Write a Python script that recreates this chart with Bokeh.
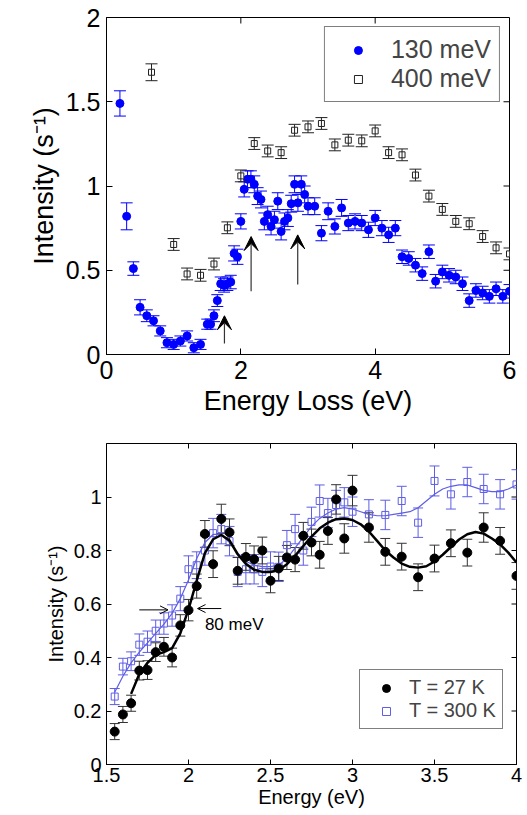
import math
from bokeh.plotting import figure
from bokeh.models import (ColumnDataSource, Whisker, TeeHead, Arrow, VeeHead, OpenHead,
                          Legend, LegendItem, FixedTicker,
                          CustomJSTickFormatter, Range1d, Label)
from bokeh.layouts import column
from bokeh.embed import file_html
from bokeh.resources import INLINE
from bokeh.core.properties import value

FONT = "Liberation Sans"

# ---------------- top panel data ----------------
e130 = [0.20, 0.30, 0.40, 0.50, 0.60, 0.70, 0.80, 0.90, 1.00, 1.10, 1.20, 1.30, 1.40,
        1.50, 1.55, 1.60, 1.65, 1.70, 1.75, 1.80, 1.85, 1.90, 1.95, 2.00, 2.05, 2.10,
        2.15, 2.20, 2.25, 2.30, 2.35, 2.40, 2.45, 2.50, 2.55, 2.60, 2.65, 2.70, 2.75,
        2.80, 2.85, 2.90, 2.95, 3.00, 3.10, 3.20, 3.30, 3.40, 3.50, 3.60, 3.70, 3.80,
        3.90, 4.00, 4.10, 4.20, 4.30, 4.40, 4.50, 4.60, 4.70, 4.80, 4.90, 5.00, 5.10,
        5.20, 5.30, 5.40, 5.50, 5.60, 5.70, 5.80, 5.90, 6.00]
i130 = [1.49, 0.82, 0.51, 0.28, 0.23, 0.20, 0.14, 0.07, 0.06, 0.08, 0.11, 0.04, 0.06,
        0.18, 0.18, 0.23, 0.32, 0.42, 0.41, 0.42, 0.43, 0.60, 0.58, 0.79, 0.98, 1.04,
        1.04, 1.01, 0.94, 0.92, 0.79, 0.83, 0.76, 0.80, 0.91, 0.73, 0.79, 0.81, 0.895,
        1.01, 0.90, 1.01, 0.95, 0.88, 0.88, 0.72, 0.85, 0.76, 0.87, 0.78, 0.79, 0.78,
        0.74, 0.81, 0.75, 0.71, 0.75, 0.58, 0.57, 0.53, 0.48, 0.61, 0.435, 0.49, 0.47,
        0.46, 0.42, 0.32, 0.38, 0.365, 0.345, 0.39, 0.345, 0.375]
err130 = [0.075, 0.08, 0.04, 0.045, 0.035, 0.03, 0.03, 0.03, 0.03, 0.03, 0.03, 0.03, 0.03,
          0.03, 0.03, 0.035, 0.035, 0.04, 0.04, 0.04, 0.04, 0.045, 0.045, 0.045, 0.045, 0.05,
          0.05, 0.05, 0.05, 0.05, 0.05, 0.05, 0.05, 0.05, 0.05, 0.05, 0.05, 0.05, 0.05,
          0.05, 0.05, 0.05, 0.05, 0.05, 0.05, 0.045, 0.05, 0.045, 0.05, 0.045, 0.045, 0.045,
          0.045, 0.045, 0.045, 0.045, 0.045, 0.04, 0.04, 0.04, 0.04, 0.04, 0.04, 0.04, 0.04,
          0.04, 0.04, 0.04, 0.04, 0.04, 0.04, 0.04, 0.04, 0.04]

e400 = [0.67, 1.0, 1.2, 1.4, 1.6, 1.8, 2.0, 2.2, 2.4, 2.6, 2.8, 3.0, 3.2, 3.4, 3.6,
        3.8, 4.0, 4.2, 4.4, 4.6, 4.8, 5.0, 5.2, 5.4, 5.6, 5.8, 6.0]
i400 = [1.675, 0.653, 0.478, 0.47, 0.537, 0.752, 1.06, 1.252, 1.208, 1.198, 1.331,
        1.351, 1.371, 1.244, 1.272, 1.268, 1.327, 1.198, 1.185, 1.065, 0.94, 0.861,
        0.79, 0.776, 0.70, 0.633, 0.597]
err400 = [0.05] + [0.035] * 26

top_xticks = [0, 2, 4, 6]
top_yticks = [0, 0.5, 1, 1.5, 2]

top_arrow_x = [1.756, 2.153, 2.847]
top_arrow_y0 = [0.065, 0.375, 0.415]
top_arrow_y1 = [0.23, 0.70, 0.71]

# ---------------- bottom panel data ----------------
energy = [1.55, 1.60, 1.65, 1.70, 1.75, 1.80, 1.85, 1.90, 1.95, 2.00, 2.05, 2.10, 2.15,
          2.20, 2.25, 2.30, 2.35, 2.40, 2.45, 2.50, 2.55, 2.60, 2.65, 2.70, 2.75, 2.80,
          2.85, 2.90, 2.95, 3.00, 3.10, 3.20, 3.30, 3.40, 3.50, 3.60, 3.70, 3.80, 3.90, 4.00]
i27 = [0.123, 0.187, 0.229, 0.351, 0.353, 0.42, 0.44, 0.40, 0.52, 0.577, 0.667, 0.862,
       0.749, 0.918, 0.868, 0.724, 0.776, 0.767, 0.80, 0.687, 0.733, 0.774, 0.766, 0.855,
       0.83, 0.784, 0.873, 0.991, 0.845, 1.024, 0.886, 0.795, 0.777, 0.70, 0.77, 0.827,
       0.792, 0.886, 0.836, 0.705]
err27 = [0.03, 0.03, 0.03, 0.035, 0.035, 0.035, 0.035, 0.035, 0.04, 0.04, 0.045, 0.05,
         0.05, 0.055, 0.05, 0.05, 0.05, 0.05, 0.05, 0.045, 0.045, 0.045, 0.045, 0.05,
         0.05, 0.05, 0.05, 0.055, 0.055, 0.057, 0.055, 0.05, 0.05, 0.05, 0.05, 0.05,
         0.05, 0.055, 0.05, 0.05]
i300 = [0.254, 0.366, 0.386, 0.448, 0.459, 0.50, 0.527, 0.557, 0.62, 0.73, 0.745, 0.80,
        0.865, 0.88, 0.835, 0.72, 0.73, 0.73, 0.72, 0.74, 0.739, 0.82, 0.88, 0.80, 0.907,
        0.985, 0.94, 0.97, 0.98, 0.945, 0.935, 0.933, 0.985, 0.904, 1.06, 1.01, 1.056,
        1.03, 1.01, 1.047]
err300 = [0.03, 0.031, 0.035, 0.04, 0.04, 0.04, 0.04, 0.04, 0.045, 0.05, 0.05, 0.055,
          0.055, 0.055, 0.055, 0.055, 0.055, 0.055, 0.055, 0.055, 0.055, 0.055, 0.055,
          0.055, 0.055, 0.06, 0.055, 0.055, 0.055, 0.055, 0.055, 0.055, 0.055, 0.055,
          0.056, 0.055, 0.055, 0.055, 0.055, 0.055]

fit27_e = [1.65, 1.70, 1.75, 1.80, 1.85, 1.90, 1.95, 2.00, 2.05, 2.10, 2.15, 2.20, 2.25,
           2.30, 2.35, 2.40, 2.45, 2.50, 2.55, 2.60, 2.65, 2.70, 2.75, 2.80, 2.85, 2.90,
           2.95, 3.00, 3.05, 3.10, 3.15, 3.20, 3.25, 3.30, 3.35, 3.40, 3.45, 3.50, 3.55,
           3.60, 3.65, 3.70, 3.75, 3.80, 3.85, 3.90, 3.95, 4.00]
fit27 = [0.264, 0.338, 0.38, 0.41, 0.42, 0.435, 0.49, 0.58, 0.687, 0.79, 0.842, 0.858,
         0.838, 0.786, 0.75, 0.728, 0.72, 0.72, 0.726, 0.749, 0.78, 0.817, 0.852, 0.883,
         0.904, 0.917, 0.92, 0.914, 0.898, 0.871, 0.836, 0.80, 0.774, 0.751, 0.739, 0.736,
         0.741, 0.759, 0.784, 0.813, 0.841, 0.861, 0.869, 0.863, 0.845, 0.823, 0.792, 0.755]
fit300_e = [1.55, 1.60, 1.65, 1.70, 1.75, 1.80, 1.85, 1.90, 1.95, 2.00, 2.05, 2.10, 2.15,
            2.20, 2.25, 2.30, 2.35, 2.40, 2.45, 2.50, 2.55, 2.60, 2.65, 2.70, 2.75, 2.80,
            2.85, 2.90, 2.95, 3.00, 3.05, 3.10, 3.15, 3.20, 3.25, 3.30, 3.35, 3.40, 3.45,
            3.50, 3.55, 3.60, 3.65, 3.70, 3.75, 3.80, 3.85, 3.90, 3.95, 4.00]
fit300 = [0.27, 0.33, 0.38, 0.42, 0.455, 0.49, 0.525, 0.565, 0.62, 0.69, 0.77, 0.83, 0.86,
          0.86, 0.83, 0.79, 0.76, 0.745, 0.74, 0.74, 0.745, 0.77, 0.81, 0.85, 0.89, 0.92,
          0.94, 0.955, 0.96, 0.955, 0.945, 0.935, 0.93, 0.93, 0.935, 0.94, 0.945, 0.96,
          0.985, 1.01, 1.03, 1.04, 1.045, 1.045, 1.035, 1.025, 1.02, 1.02, 1.03, 1.045]

bot_xticks = [1.5, 2, 2.5, 3, 3.5, 4]
bot_yticks = [0, 0.2, 0.4, 0.6, 0.8, 1.0]

arrow80_x0 = [1.70, 2.20]
arrow80_x1 = [1.875, 2.055]
arrow80_y = [0.578, 0.583]

BLUE = "#0000ff"
LBLUE = "#5e5ee6"

fmt = CustomJSTickFormatter(code="return String(Math.round(tick*100)/100)")


def style(p, xticks, yticks, tick_fs, label_fs, tick_len, xlabel, ylabel):
    p.grid.visible = False
    p.outline_line_color = "black"
    p.outline_line_width = 1
    xa = p.below[0]
    ya = p.left[0]
    for ax in (xa, ya):
        ax.major_tick_in = tick_len
        ax.major_tick_out = 0
        ax.minor_tick_line_color = None
        ax.axis_line_color = "black"
        ax.major_tick_line_color = "black"
        ax.major_label_text_font = FONT
        ax.major_label_text_font_size = tick_fs
        ax.major_label_text_color = "black"
        ax.axis_label_text_font = FONT
        ax.axis_label_text_font_size = label_fs
        ax.axis_label_text_font_style = "normal"
        ax.axis_label_text_color = "black"
        ax.formatter = fmt
    xa.ticker = FixedTicker(ticks=xticks)
    ya.ticker = FixedTicker(ticks=yticks)
    xa.axis_label = xlabel
    ya.axis_label = ylabel
    # mirrored inward ticks on the top and right frame edges
    xmax = p.x_range.end
    ymax = p.y_range.end
    p.ray(x=[xmax] * len(yticks), y=yticks, length=tick_len, length_units="screen",
          angle=math.pi, line_color="black", line_width=1)
    p.ray(x=xticks, y=[ymax] * len(xticks), length=tick_len, length_units="screen",
          angle=-math.pi / 2, line_color="black", line_width=1)
    return xa, ya


# ---------------- top figure ----------------
p1 = figure(width=520, height=424, x_range=Range1d(0, 6), y_range=Range1d(0, 2),
            output_backend="svg", toolbar_location=None,
            min_border_left=106, min_border_right=11, min_border_top=17, min_border_bottom=70)
xa1, ya1 = style(p1, top_xticks, top_yticks, "25px", "27px", 6,
                 "Energy Loss (eV)", "Intensity (s⁻¹)")
xa1.major_label_standoff = 6
ya1.major_label_standoff = 6
xa1.axis_label_standoff = 4
ya1.axis_label_standoff = 4

s130 = ColumnDataSource(dict(x=e130, y=i130,
                             lo=[a - b for a, b in zip(i130, err130)],
                             up=[a + b for a, b in zip(i130, err130)]))
s400 = ColumnDataSource(dict(x=e400, y=i400,
                             lo=[a - b for a, b in zip(i400, err400)],
                             up=[a + b for a, b in zip(i400, err400)]))

w130 = Whisker(source=s130, base="x", upper="up", lower="lo", line_color=BLUE, line_width=1,
               upper_head=TeeHead(size=12, line_color=BLUE, line_width=1),
               lower_head=TeeHead(size=12, line_color=BLUE, line_width=1))
p1.add_layout(w130)
r130 = p1.scatter("x", "y", source=s130, marker="circle", size=8, fill_color=BLUE,
                  line_color=BLUE)
r400 = p1.scatter("x", "y", source=s400, marker="square", size=6, fill_color="white",
                  line_color="#222222", line_width=1)
w400 = Whisker(source=s400, base="x", upper="up", lower="lo", line_color="#222222",
               line_width=1, level="overlay",
               upper_head=TeeHead(size=12, line_color="#222222", line_width=1),
               lower_head=TeeHead(size=12, line_color="#222222", line_width=1))
p1.add_layout(w400)

for ax_, y0, y1 in zip(top_arrow_x, top_arrow_y0, top_arrow_y1):
    p1.add_layout(Arrow(x_start=ax_, y_start=y0, x_end=ax_, y_end=y1,
                        line_color="#333333", line_width=1.2,
                        end=VeeHead(size=14, fill_color="black", line_color="black")))

leg1 = Legend(items=[LegendItem(label=value("130 meV"), renderers=[r130]),
                     LegendItem(label=value("400 meV"), renderers=[r400])],
              location="top_right", margin=9, padding=8, spacing=0,
              glyph_width=50, label_standoff=8, label_text_font=FONT,
              label_text_font_size="25px", border_line_color="black",
              border_line_width=1, background_fill_alpha=1)
p1.add_layout(leg1)

# ---------------- bottom figure ----------------
p2 = figure(width=527, height=391, x_range=Range1d(1.5, 4), y_range=Range1d(0, 1.2),
            output_backend="svg", toolbar_location=None,
            min_border_left=105, min_border_right=6, min_border_top=19, min_border_bottom=51)
xa2, ya2 = style(p2, bot_xticks, bot_yticks, "20px", "20px", 5,
                 "Energy (eV)", "Intensity (s⁻¹)")
xa2.major_label_standoff = 3
ya2.major_label_standoff = 5
xa2.axis_label_standoff = 1
ya2.axis_label_standoff = 4

s27 = ColumnDataSource(dict(x=energy, y=i27,
                            lo=[a - b for a, b in zip(i27, err27)],
                            up=[a + b for a, b in zip(i27, err27)]))
s300 = ColumnDataSource(dict(x=energy, y=i300,
                             lo=[a - b for a, b in zip(i300, err300)],
                             up=[a + b for a, b in zip(i300, err300)]))

w300 = Whisker(source=s300, base="x", upper="up", lower="lo", line_color=LBLUE, line_width=1,
               upper_head=TeeHead(size=10, line_color=LBLUE, line_width=1),
               lower_head=TeeHead(size=10, line_color=LBLUE, line_width=1))
p2.add_layout(w300)
w27 = Whisker(source=s27, base="x", upper="up", lower="lo", line_color="#333333",
              line_width=1,
              upper_head=TeeHead(size=10, line_color="#333333", line_width=1),
              lower_head=TeeHead(size=10, line_color="#333333", line_width=1))
p2.add_layout(w27)

p2.line(fit300_e, fit300, line_color=LBLUE, line_width=1.2)
r300 = p2.scatter("x", "y", source=s300, marker="square", size=7, fill_color="white",
                  fill_alpha=0, line_color=LBLUE, line_width=1)
r27 = p2.scatter("x", "y", source=s27, marker="circle", size=9, fill_color="black",
                 line_color="black")
p2.line(fit27_e, fit27, line_color="black", line_width=2.5)

for x0, x1, yy in zip(arrow80_x0, arrow80_x1, arrow80_y):
    p2.add_layout(Arrow(x_start=x0, y_start=yy, x_end=x1, y_end=yy,
                        line_color="black", line_width=1,
                        end=OpenHead(size=8, line_color="black", line_width=1)))
p2.add_layout(Label(x=2.10, y=0.525, text="80 meV", text_font=FONT,
                    text_font_size="17px", text_baseline="middle", text_color="black"))

leg2 = Legend(items=[LegendItem(label=value("T = 27 K"), renderers=[r27]),
                     LegendItem(label=value("T = 300 K"), renderers=[r300])],
              location=(253, 35), padding=6, spacing=0, glyph_width=40,
              label_standoff=3, label_text_font=FONT, label_text_font_size="20px",
              border_line_color="black", border_line_width=1, background_fill_alpha=1)
p2.add_layout(leg2)

layout = column(p1, p2, spacing=0)
open("out.html", "w").write(file_html(layout, INLINE))
